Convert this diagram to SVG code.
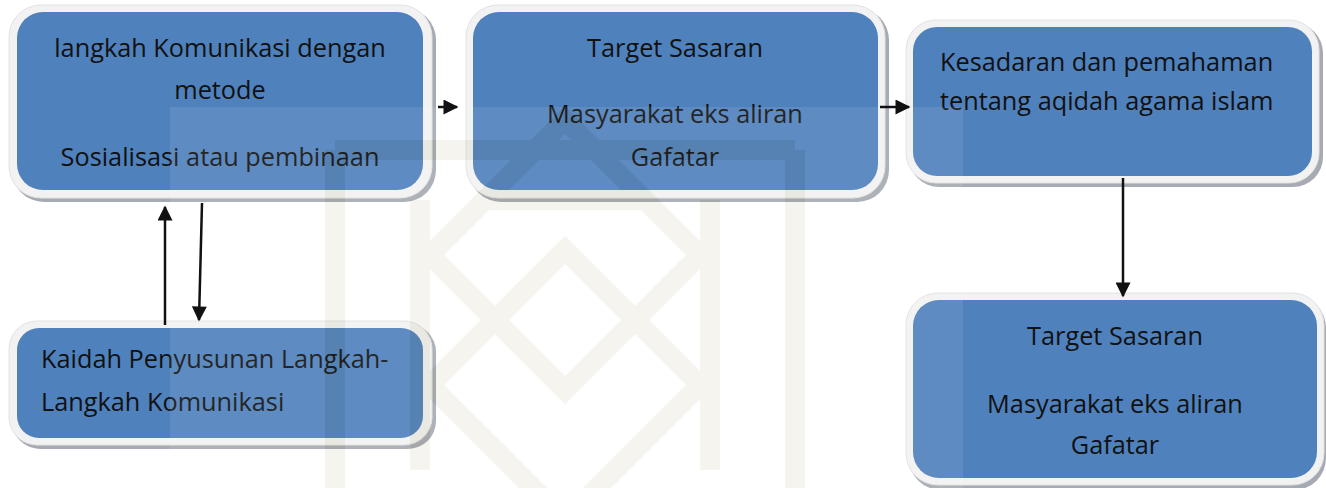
<svg xmlns="http://www.w3.org/2000/svg" width="1326" height="488" viewBox="0 0 1326 488">
<defs>
<style>
.shadow{fill:#a6abb3;}
.frame{fill:#f2f2f2;stroke:#e2e2e2;stroke-width:1;}
.box{fill:#4f81bd;}
.t{font-family:"Open Sans","Liberation Sans",Arial,sans-serif;font-size:25.3px;fill:#111;}
.c{text-anchor:middle;}
.conn{stroke:#111;stroke-width:2.5;fill:none;}
.wm{fill:none;stroke:#9c8a5c;stroke-width:20;stroke-linejoin:miter;}
</style>
<marker id="ah" viewBox="0 0 10 10" refX="9" refY="5" markerWidth="6.5" markerHeight="6" markerUnits="strokeWidth" orient="auto">
<path d="M0,0 L10,5 L0,10 z" fill="#111"/>
</marker>
</defs>
<rect width="1326" height="488" fill="#ffffff"/>

<g id="node-langkah">
<rect class="shadow" x="12" y="8" width="424" height="194" rx="32"/>
<rect class="frame" x="9" y="5" width="423" height="193" rx="32"/>
<rect class="box" x="17" y="12" width="406" height="178" rx="26"/>
<text class="t c" x="220" y="57">langkah Komunikasi dengan</text>
<text class="t c" x="220" y="99">metode</text>
<text class="t c" x="220" y="166">Sosialisasi atau pembinaan</text>
</g>

<g id="node-target1">
<rect class="shadow" x="469" y="8" width="420" height="194" rx="32"/>
<rect class="frame" x="466" y="5" width="419" height="193" rx="32"/>
<rect class="box" x="473" y="12" width="405" height="178" rx="26"/>
<text class="t c" x="675" y="57">Target Sasaran</text>
<text class="t c" x="675" y="123">Masyarakat eks aliran</text>
<text class="t c" x="675" y="166">Gafatar</text>
</g>

<g id="node-kesadaran">
<rect class="shadow" x="909" y="23" width="414" height="164" rx="30"/>
<rect class="frame" x="906" y="20" width="413" height="163" rx="30"/>
<rect class="box" x="913" y="27" width="399" height="149" rx="24"/>
<text class="t" x="940" y="71">Kesadaran dan pemahaman</text>
<text class="t" x="940" y="110">tentang aqidah agama islam</text>
</g>

<g id="node-kaidah">
<rect class="shadow" x="12" y="324" width="424" height="125" rx="28"/>
<rect class="frame" x="9" y="321" width="423" height="124" rx="28"/>
<rect class="box" x="17" y="328" width="406" height="110" rx="22"/>
<text class="t" x="41" y="368">Kaidah Penyusunan Langkah-</text>
<text class="t" x="41" y="411">Langkah Komunikasi</text>
</g>

<g id="node-target2">
<rect class="shadow" x="909" y="296" width="417" height="194" rx="32"/>
<rect class="frame" x="906" y="293" width="418" height="192" rx="32"/>
<rect class="box" x="913" y="300" width="404" height="178" rx="26"/>
<text class="t c" x="1115" y="345">Target Sasaran</text>
<text class="t c" x="1115" y="413">Masyarakat eks aliran</text>
<text class="t c" x="1115" y="454">Gafatar</text>
</g>

<g id="watermark" opacity="0.09">
<rect x="170" y="107" width="793" height="381" fill="#ffffff" opacity="0.9"/>
<path class="wm" d="M335,150 V488 M795,150 V488 M335,150 H795"/>
<path class="wm" d="M565,120 L700,255 L565,390 L430,255 Z"/>
<path class="wm" d="M565,250 L700,385 L565,520 L430,385 Z"/>
<path class="wm" d="M420,200 V470 M710,200 V470 M480,200 H650"/>
</g>

<g id="connectors">
<line class="conn" x1="438" y1="107" x2="457" y2="107" marker-end="url(#ah)"/>
<line class="conn" x1="880" y1="107" x2="909" y2="107" marker-end="url(#ah)"/>
<line class="conn" x1="1123" y1="178" x2="1123" y2="296" marker-end="url(#ah)"/>
<line class="conn" x1="165" y1="325" x2="165" y2="207" marker-end="url(#ah)"/>
<line class="conn" x1="202" y1="203" x2="199" y2="320" marker-end="url(#ah)"/>
</g>
</svg>
